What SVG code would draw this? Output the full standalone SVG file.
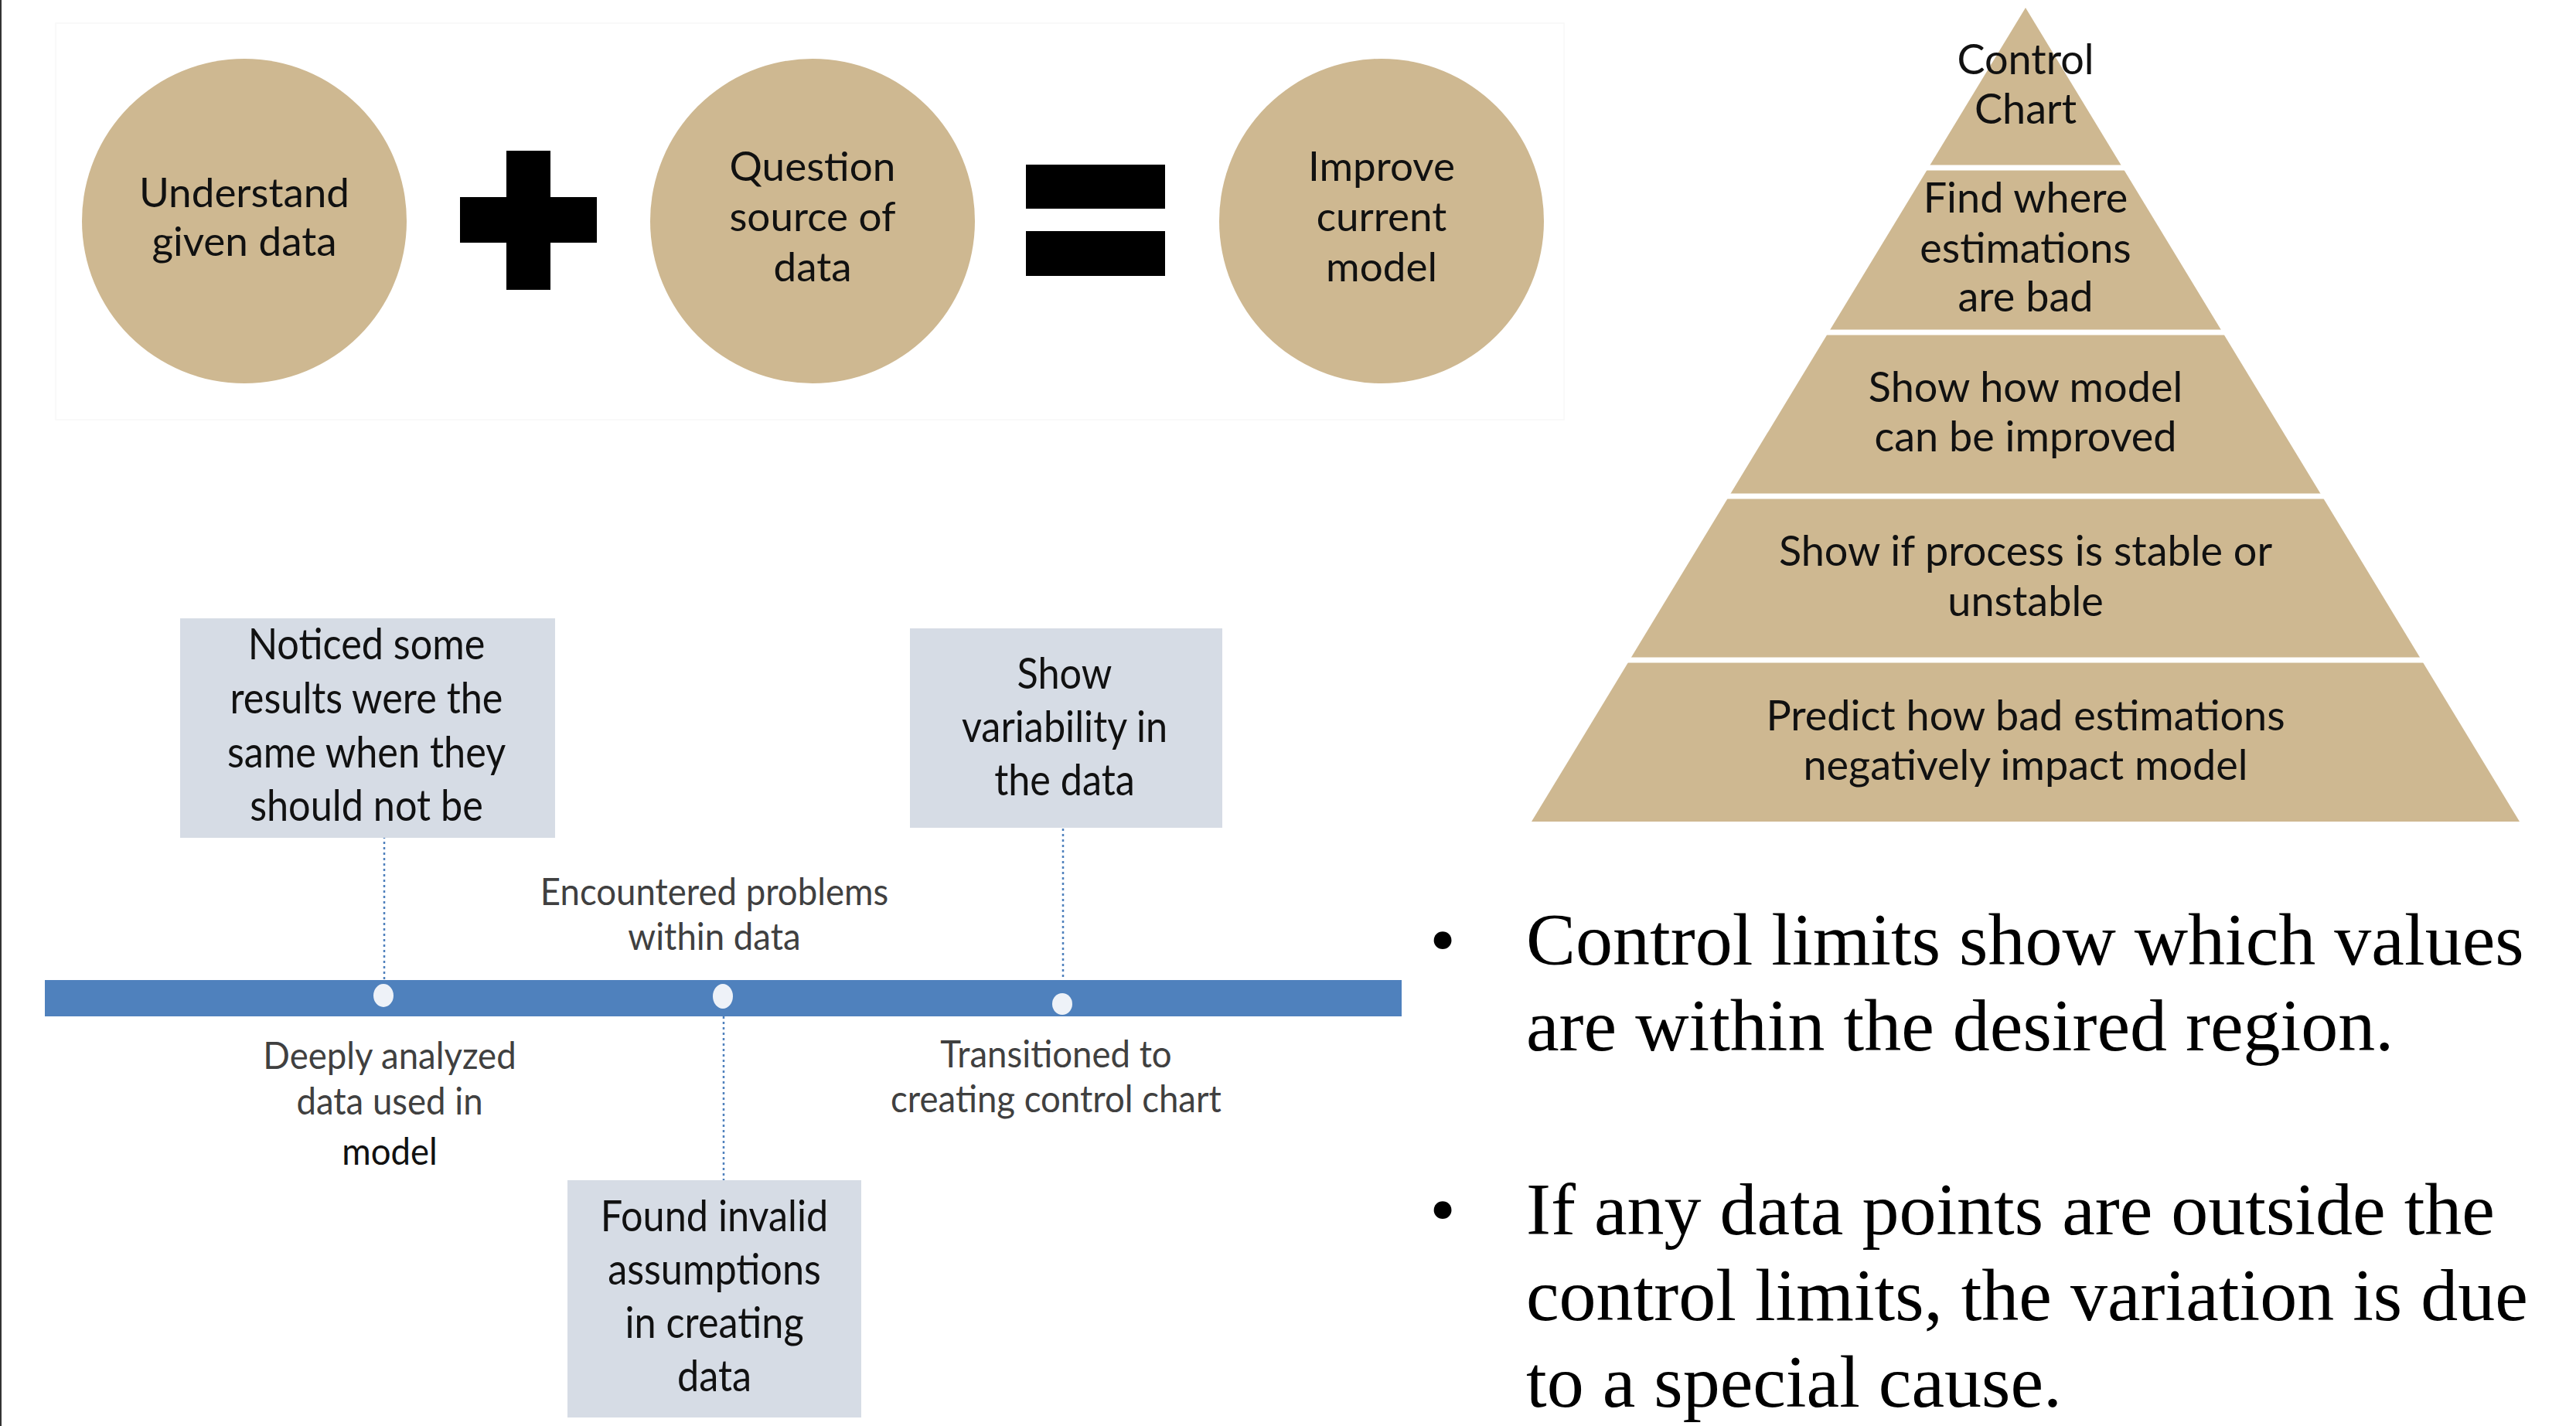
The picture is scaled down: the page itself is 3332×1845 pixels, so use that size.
<svg xmlns="http://www.w3.org/2000/svg" width="3332" height="1845" viewBox="0 0 3332 1845">
<defs>
<style>
.tan{fill:#CEB891}
.ct{font-family:Lato,"Liberation Sans",sans-serif;font-size:53px;fill:#111;text-anchor:middle}
.pt{font-family:Lato,"Liberation Sans",sans-serif;font-size:54px;fill:#111;text-anchor:middle}
.box{fill:#D6DCE5}
.bt{font-family:Lato,"Liberation Sans",sans-serif;font-size:56px;fill:#111;text-anchor:middle}
.lt{font-family:Lato,"Liberation Sans",sans-serif;font-size:49px;fill:#404040;text-anchor:middle}
.conn{stroke:#4F81BD;stroke-width:2.5;stroke-dasharray:3 4;fill:none}
.dot{fill:#EEF2F8}
.bul{font-family:"Liberation Serif","Times New Roman",serif;font-size:96px;fill:#000}
.sep{stroke:#fff;stroke-width:7}
</style>
</defs>
<rect x="0" y="0" width="3332" height="1845" fill="#fff"/>
<rect x="0" y="0" width="2" height="1845" fill="#333"/>

<g id="equation-panel">
<rect x="72" y="30" width="1951" height="513" fill="#fff" stroke="#f8f8f8" stroke-width="1.5"/>
</g>
<g id="circle-understand">
<circle class="tan" cx="316" cy="286" r="210"/>
<text class="ct"><tspan x="316" y="268">Understand</tspan><tspan x="316" y="331">given data</tspan></text>
</g>
<g id="plus-sign">
<rect x="655" y="195" width="57" height="180" fill="#000"/>
<rect x="595" y="255" width="177" height="59" fill="#000"/>
</g>
<g id="circle-question">
<circle class="tan" cx="1051" cy="286" r="210"/>
<text class="ct"><tspan x="1051" y="234">Question</tspan><tspan x="1051" y="299">source of</tspan><tspan x="1051" y="364">data</tspan></text>
</g>
<g id="equals-sign">
<rect x="1327" y="213" width="180" height="57" fill="#000"/>
<rect x="1327" y="299" width="180" height="58" fill="#000"/>
</g>
<g id="circle-improve">
<circle class="tan" cx="1787" cy="286" r="210"/>
<text class="ct"><tspan x="1787" y="234">Improve</tspan><tspan x="1787" y="299">current</tspan><tspan x="1787" y="364">model</tspan></text>
</g>

<g id="pyramid">
<polygon class="tan" points="2620,10 3259,1063 1981,1063"/>
<line class="sep" x1="2460" y1="217" x2="2780" y2="217"/>
<line class="sep" x1="2330" y1="430" x2="2910" y2="430"/>
<line class="sep" x1="2200" y1="642" x2="3040" y2="642"/>
<line class="sep" x1="2070" y1="854" x2="3170" y2="854"/>
</g>
<g id="pyr-control-chart">
<text class="pt"><tspan x="2620" y="96">Control</tspan><tspan x="2620" y="160">Chart</tspan></text>
</g>
<g id="pyr-find-where">
<text class="pt"><tspan x="2620" y="275">Find where</tspan><tspan x="2620" y="340">estimations</tspan><tspan x="2620" y="403">are bad</tspan></text>
</g>
<g id="pyr-show-how">
<text class="pt"><tspan x="2620" y="520">Show how model</tspan><tspan x="2620" y="584">can be improved</tspan></text>
</g>
<g id="pyr-show-if">
<text class="pt"><tspan x="2620" y="732">Show if process is stable or</tspan><tspan x="2620" y="797">unstable</tspan></text>
</g>
<g id="pyr-predict">
<text class="pt"><tspan x="2620" y="945">Predict how bad estimations</tspan><tspan x="2620" y="1009">negatively impact model</tspan></text>
</g>

<g id="connectors">
<line class="conn" x1="497" y1="1047" x2="497" y2="1268"/>
<line class="conn" x1="936" y1="1315" x2="936" y2="1527"/>
<line class="conn" x1="1375" y1="1065" x2="1375" y2="1268"/>
</g>

<g id="timeline-bar">
<rect x="58" y="1268" width="1755" height="47" fill="#4F81BD"/>
<ellipse class="dot" cx="496" cy="1288" rx="13" ry="15"/>
<ellipse class="dot" cx="935" cy="1289" rx="13" ry="16"/>
<ellipse class="dot" cx="1374" cy="1299" rx="13" ry="14"/>
</g>

<g id="box-noticed">
<rect class="box" x="233" y="800" width="485" height="284"/>
<g transform="translate(474,0) scale(0.9,1)"><text class="bt"><tspan x="0" y="853">Noticed some</tspan><tspan x="0" y="923">results were the</tspan><tspan x="0" y="993">same when they</tspan><tspan x="0" y="1062">should not be</tspan></text></g>
</g>
<g id="box-found">
<rect class="box" x="734" y="1527" width="380" height="307"/>
<g transform="translate(924,0) scale(0.9,1)"><text class="bt"><tspan x="0" y="1593">Found invalid</tspan><tspan x="0" y="1662">assumptions</tspan><tspan x="0" y="1731">in creating</tspan><tspan x="0" y="1800">data</tspan></text></g>
</g>
<g id="box-show-variability">
<rect class="box" x="1177" y="813" width="404" height="258"/>
<g transform="translate(1377,0) scale(0.9,1)"><text class="bt"><tspan x="0" y="891">Show</tspan><tspan x="0" y="960">variability in</tspan><tspan x="0" y="1029">the data</tspan></text></g>
</g>

<g id="label-encountered">
<g transform="translate(924,0) scale(0.93,1)"><text class="lt"><tspan x="0" y="1171">Encountered problems</tspan><tspan x="0" y="1229">within data</tspan></text></g>
</g>
<g id="label-deeply">
<g transform="translate(504,0) scale(0.93,1)"><text class="lt"><tspan x="0" y="1383">Deeply analyzed</tspan><tspan x="0" y="1442">data used in</tspan><tspan x="0" y="1507" fill="#111">model</tspan></text></g>
</g>
<g id="label-transitioned">
<g transform="translate(1366,0) scale(0.93,1)"><text class="lt"><tspan x="0" y="1381">Transitioned to</tspan><tspan x="0" y="1439">creating control chart</tspan></text></g>
</g>

<g id="bullets">
<text class="bul" x="1866" y="1248" text-anchor="middle">•</text>
<text class="bul"><tspan x="1974" y="1248">Control limits show which values</tspan><tspan x="1974" y="1359">are within the desired region.</tspan></text>
<text class="bul" x="1866" y="1597" text-anchor="middle">•</text>
<text class="bul"><tspan x="1974" y="1597">If any data points are outside the</tspan><tspan x="1974" y="1708">control limits, the variation is due</tspan><tspan x="1974" y="1820">to a special cause.</tspan></text>
</g>
</svg>
